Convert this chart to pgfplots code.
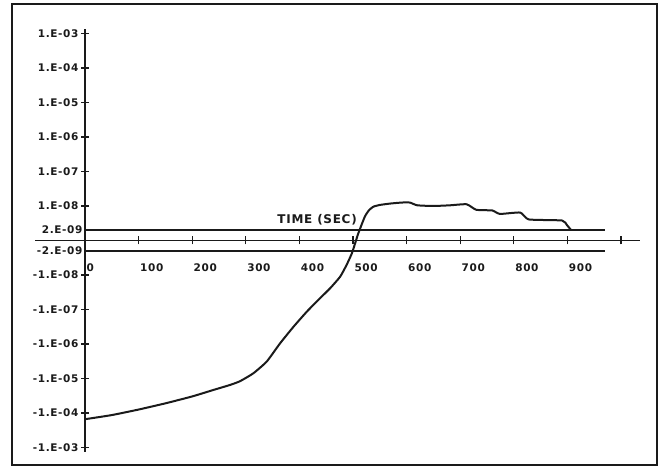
\documentclass[border=0pt]{standalone}
\usepackage{pgfplots}
\pgfplotsset{compat=1.18}
\usepackage{fontspec}
\setmainfont{DejaVu Sans}[LetterSpace=6.0]
\definecolor{ink}{HTML}{1A1A1A}
\begin{document}
\begin{tikzpicture}[x=1pt,y=1pt]
\begin{axis}[
  scale only axis, width=645pt, height=461pt,
  xmin=-136.2, xmax=1067.2, ymin=-6.507, ymax=6.855,
  axis lines=middle, axis line style={draw=none},
  hide obscured x ticks=false, hide obscured y ticks=false,
  clip=false,
  xtick={0,100,200,300,400,500,600,700,800,900,1000},
  xticklabels={0,100,200,300,400,500,600,700,800,900,{}},
  ytick={-6,-5,-4,-3,-2,-1,1,2,3,4,5,6},
  yticklabels={-1.E-03,-1.E-04,-1.E-05,-1.E-06,-1.E-07,-1.E-08,1.E-08,1.E-07,1.E-06,1.E-05,1.E-04,1.E-03},
  extra y ticks={-0.3,0.3},
  extra y tick labels={-2.E-09,2.E-09},
  extra y tick style={major tick length=0pt},
  tick align=center, major tick length=8pt,
  tick style={ink, line width=1.3pt},
  tick label style={font=\fontsize{10.5}{12}\selectfont\bfseries, text=ink},
  xticklabel style={anchor=north west, xshift=-2pt, yshift=-16pt},
  yticklabel style={anchor=east, xshift=1pt},
]
% axes drawn as lines
\addplot[ink, line width=1.6pt] coordinates {(-93,0) (1035,0)};
\addplot[ink, line width=1.6pt] coordinates {(0,-6.12) (0,6.13)};
\addplot[ink, line width=1.6pt] coordinates {(0,0.3) (970,0.3)};
\addplot[ink, line width=1.6pt] coordinates {(0,-0.3) (970,-0.3)};
% measured curve (y in signed decades: sign(v)*log10(|v|/1e-9))
\addplot[ink, line width=2pt, line join=round, smooth, tension=0.3] coordinates {
(0,-5.18) (50,-5.06) (100,-4.90) (150,-4.72) (200,-4.52) (240,-4.33)
(270,-4.19) (289,-4.08) (314,-3.85) (339,-3.51) (364,-2.98) (389,-2.50)
(414,-2.06) (438,-1.68) (457,-1.39) (476,-1.05) (488,-0.71) (498,-0.37)
(504,-0.08) (510,0.21) (522,0.69) (530,0.88) (538,0.98) (550,1.03)
(569,1.07) (591,1.10) (606,1.10) (620,1.02) (650,1.00) (681,1.02)
(712,1.05) (730,0.89) (760,0.87) (774,0.77) (812,0.81) (828,0.61)
(890,0.58) (899,0.45) (907,0.30)
};
\node[font=\fontsize{12}{14}\selectfont\bfseries, text=ink] at (axis cs:433,0.59) {TIME (SEC)};
\draw[ink, line width=1.8pt] (rel axis cs:0,0) rectangle (rel axis cs:1,1);
\path (rel axis cs:0,0) ++(-12pt,-3pt) coordinate (bl);
\path (rel axis cs:1,1) ++(4pt,4pt) coordinate (tr);
\path (bl) rectangle (tr);
\end{axis}
\end{tikzpicture}
\end{document}
